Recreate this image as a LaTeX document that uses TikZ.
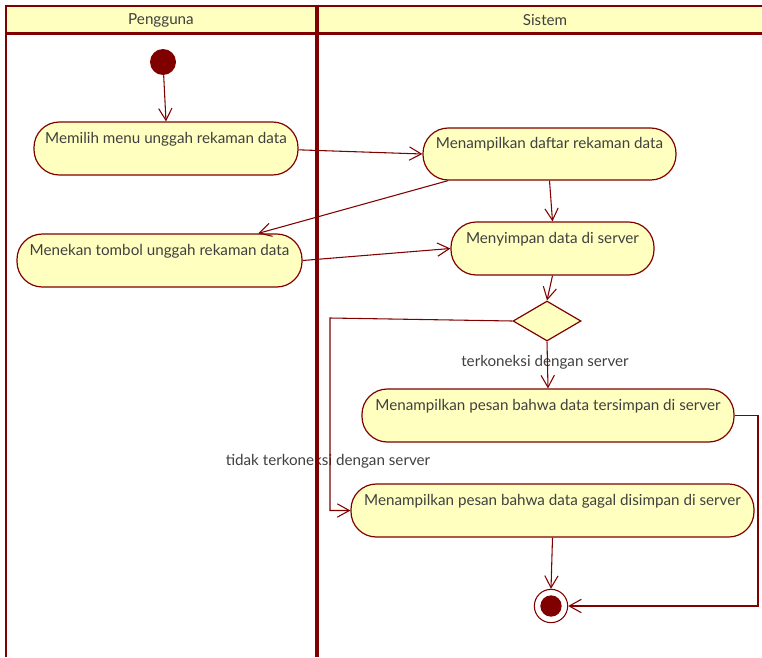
\documentclass[tikz,border=0pt]{standalone}
\usepackage{fontspec}
\setmainfont{Lato}
\usetikzlibrary{arrows.meta,shapes.geometric}
\definecolor{umlred}{HTML}{800000}
\definecolor{umlfill}{HTML}{FFFFC0}
\definecolor{umltext}{HTML}{404040}
\tikzset{
  act/.style={draw=umlred, line width=0.9pt, fill=umlfill, rectangle, rounded corners=19pt,
    minimum height=39.75pt, inner sep=0pt, text height=6.5pt, text depth=14.75pt,
    font=\fontsize{11.4pt}{13pt}\selectfont, text=umltext},
  flow/.style={draw=umlred, line width=0.8pt, -{Straight Barb[length=9pt,width=10pt,line width=0.8pt]}},
  lbl/.style={font=\fontsize{11.4pt}{13pt}\selectfont, text=umltext, inner sep=0pt},
  lane/.style={draw=umlred},
}
\begin{document}
\begin{tikzpicture}[x=0.75pt,y=-0.75pt]
\useasboundingbox (0,0) rectangle (762,657);
% swimlanes
\fill[umlfill] (6,6) rectangle (762,33);
\node[lbl] (hp) at (161,20) {Pengguna};
\node[lbl] (hs) at (545,20) {Sistem};
% start
\node[circle, fill=umlred, minimum size=19.5pt, inner sep=0pt] (S) at (163,62) {};
% activities
\node[act, minimum width=198pt] (A1) at (166,148.5) {Memilih menu unggah rekaman data};
\node[act, minimum width=213.75pt] (A2) at (159.5,260.5) {Menekan tombol unggah rekaman data};
\node[act, minimum width=189.75pt, minimum height=39pt] (A3) at (549.5,154) {Menampilkan daftar rekaman data};
\node[act, minimum width=152.25pt] (A4) at (552.5,248.5) {Menyimpan data di server};
\node[draw=umlred, line width=0.9pt, fill=umlfill, diamond, minimum width=51pt, minimum height=30pt, inner sep=0pt] (D) at (547,321) {};
\node[act, minimum width=279pt] (A5) at (548,415.5) {Menampilkan pesan bahwa data tersimpan di server};
\node[act, minimum width=302.25pt] (A6) at (552.5,510.5) {Menampilkan pesan bahwa data gagal disimpan di server};
% final
\node[circle, draw=umlred, line width=0.8pt, fill=white, minimum size=25pt, inner sep=0pt] (F) at (551,606) {};
\node[circle, fill=umlred, minimum size=16pt, inner sep=0pt] (Fi) at (F.center) {};
% labels
\node[lbl] (L1) at (545,362) {terkoneksi dengan server};
\node[lbl] (L2) at (328,461) {tidak terkoneksi dengan server};
% lane lines
\draw[lane, line width=2.2pt] (6,6) -- (762,6);
\draw[lane, line width=2.2pt] (6,33.5) -- (762,33.5);
\draw[lane, line width=1.6pt] (6,5) -- (6,657);
\draw[lane, line width=3pt] (317,5) -- (317,657);
% coordinates
\coordinate (c1) at (330,318);
\coordinate (c2) at (330,510.5);
\coordinate (c3) at (758,415.5);
% flows
\draw[flow] (S) -- (A1.north);
\draw[flow] ([yshift=-1pt]A1.east) -- (A3.west);
\draw[flow] ([xshift=-76pt]A3.south) -- ([xshift=74pt]A2.north);
\draw[flow] (A3.south) -- (A4.north);
\draw[flow] (A2.east) -- (A4.west);
\draw[flow] (A4.south) -- (D.north);
\draw[flow] (D.south) -- (A5.north);
\draw[flow] (D.west) -- (c1) -- (c2) -- (A6.west);
\draw[flow] (A5.east) -- (c3) |- (F.east);
\draw[flow] (A6.south) -- (F.north);
\end{tikzpicture}
\end{document}
